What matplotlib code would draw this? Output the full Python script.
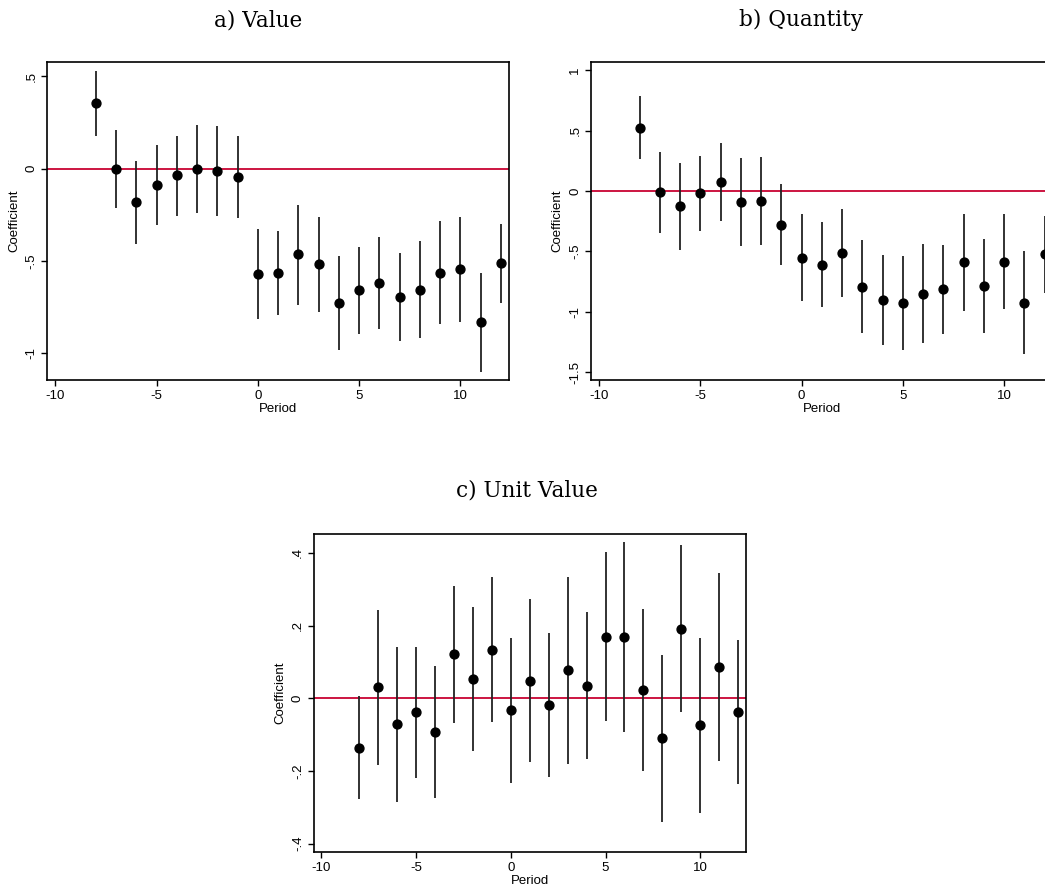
import numpy as np
import matplotlib.pyplot as plt

periods = np.arange(-8, 13)

# a) Value
value_coef = [0.354, -0.002, -0.182, -0.087, -0.036, -0.002, -0.011, -0.043,
              -0.571, -0.563, -0.464, -0.518, -0.728, -0.659, -0.619, -0.695,
              -0.655, -0.563, -0.545, -0.832, -0.513]
value_hi = [0.531, 0.208, 0.043, 0.128, 0.179, 0.237, 0.233, 0.179,
            -0.329, -0.336, -0.195, -0.260, -0.475, -0.424, -0.370, -0.457,
            -0.394, -0.285, -0.264, -0.563, -0.298]
value_lo = [0.179, -0.213, -0.406, -0.305, -0.255, -0.240, -0.255, -0.269,
            -0.813, -0.793, -0.737, -0.776, -0.981, -0.896, -0.869, -0.932,
            -0.917, -0.840, -0.829, -1.100, -0.726]

# b) Quantity
qty_coef = [0.522, -0.008, -0.124, -0.019, 0.077, -0.091, -0.083, -0.279,
            -0.552, -0.610, -0.517, -0.793, -0.903, -0.928, -0.851, -0.815,
            -0.591, -0.787, -0.586, -0.925, -0.522]
qty_hi = [0.785, 0.326, 0.232, 0.293, 0.401, 0.273, 0.279, 0.058,
          -0.193, -0.260, -0.152, -0.409, -0.533, -0.541, -0.439, -0.445,
          -0.193, -0.395, -0.193, -0.494, -0.204]
qty_lo = [0.262, -0.345, -0.486, -0.329, -0.246, -0.456, -0.445, -0.616,
          -0.909, -0.959, -0.881, -1.174, -1.273, -1.315, -1.260, -1.185,
          -0.992, -1.180, -0.981, -1.354, -0.843]

# c) Unit Value
uv_coef = [-0.136, 0.030, -0.072, -0.039, -0.092, 0.121, 0.053, 0.134,
           -0.033, 0.049, -0.019, 0.077, 0.035, 0.170, 0.170, 0.024,
           -0.109, 0.192, -0.073, 0.086, -0.037]
uv_hi = [0.007, 0.243, 0.141, 0.141, 0.090, 0.309, 0.251, 0.333,
         0.166, 0.272, 0.179, 0.334, 0.237, 0.402, 0.430, 0.247,
         0.120, 0.423, 0.167, 0.345, 0.161]
uv_lo = [-0.277, -0.183, -0.285, -0.218, -0.273, -0.068, -0.145, -0.066,
         -0.232, -0.174, -0.217, -0.180, -0.166, -0.062, -0.092, -0.199,
         -0.339, -0.039, -0.315, -0.172, -0.235]

x_ticks = [-10, -5, 0, 5, 10]
x_labels = ["-10", "-5", "0", "5", "10"]

plt.rcParams['font.family'] = ['Liberation Sans', 'DejaVu Sans']

fig = plt.figure(figsize=(10.45, 8.88), dpi=100)


def coef_panel(rect, coef, lo, hi, yticks, ylabels, ylim):
    ax = fig.add_axes(rect)
    ax.vlines(periods, lo, hi, color='#222222', lw=1.3, zorder=2)
    ax.axhline(0, color='#cc1440', lw=1.4, zorder=1)
    ax.plot(periods, coef, 'o', color='black', ms=6.4, zorder=3)
    ax.set_xlim(-10.4, 12.4)
    ax.set_ylim(*ylim)
    ax.set_xticks(x_ticks)
    ax.set_xticklabels(x_labels)
    ax.set_yticks(yticks)
    ax.set_yticklabels(ylabels, rotation=90, va='center')
    ax.tick_params(direction='out', length=4, width=1, labelsize=9.5, pad=3,
                   color='black')
    for s in ax.spines.values():
        s.set_linewidth(1.2)
        s.set_color('black')
    ax.set_xlabel("Period", fontsize=9.5, labelpad=1)
    ax.set_ylabel("Coefficient", fontsize=9.5, labelpad=4)
    return ax


coef_panel([0.0453, 0.5721, 0.4418, 0.3577], value_coef, value_lo, value_hi,
           [0.5, 0, -0.5, -1], [".5", "0", "-.5", "-1"], (-1.145, 0.576))
coef_panel([0.5656, 0.5721, 0.4418, 0.3577], qty_coef, qty_lo, qty_hi,
           [1, 0.5, 0, -0.5, -1, -1.5], ["1", ".5", "0", "-.5", "-1", "-1.5"],
           (-1.566, 1.066))
coef_panel([0.3002, 0.0405, 0.4134, 0.3581], uv_coef, uv_lo, uv_hi,
           [0.4, 0.2, 0, -0.2, -0.4], [".4", ".2", "0", "-.2", "-.4"],
           (-0.423, 0.452))

title_kw = dict(ha='center', va='center', fontsize=15.5, family='DejaVu Serif')
fig.text(258 / 1045, 1 - 20 / 888, "a) Value", **title_kw)
fig.text(801 / 1045, 1 - 20 / 888, "b) Quantity", **title_kw)
fig.text(527 / 1045, 1 - 490 / 888, "c) Unit Value", **title_kw)

fig.savefig("out.png", dpi=100)
